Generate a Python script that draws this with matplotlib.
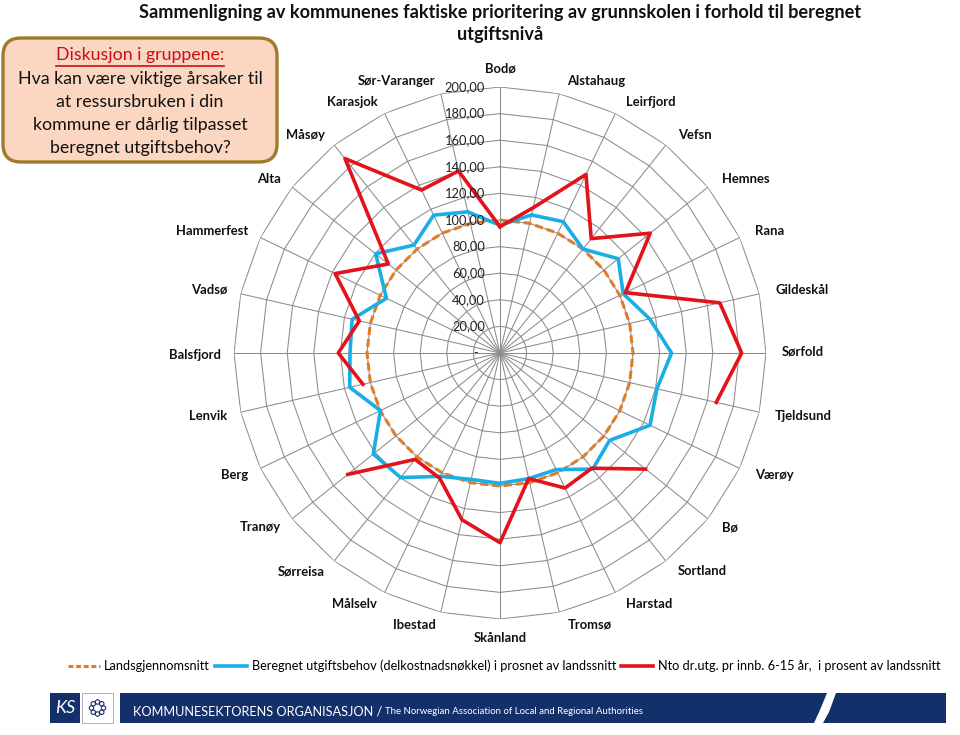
import numpy as np
import matplotlib.pyplot as plt
from matplotlib.lines import Line2D
from matplotlib.patches import FancyBboxPatch, Rectangle, Circle, Polygon
from matplotlib.transforms import offset_copy

plt.rcParams['font.family'] = ['Lato', 'DejaVu Sans']

kommuner = ["Bodø", "Alstahaug", "Leirfjord", "Vefsn", "Hemnes", "Rana", "Gildeskål",
            "Sørfold", "Tjeldsund", "Værøy", "Bø", "Sortland", "Harstad", "Tromsø",
            "Skånland", "Ibestad", "Målselv", "Sørreisa", "Tranøy", "Berg", "Lenvik",
            "Balsfjord", "Vadsø", "Hammerfest", "Alta", "Måsøy", "Karasjok", "Sør-Varanger"]

landsgjennomsnitt = [100.0] * len(kommuner)
beregnet = [96, 106.5, 109.6, 100, 113.7, 102.8, 115.4, 129, 121, 125.2, 105.4, 111.7, 97.3, 96.9,
            98, 97.5, 102.9, 119.8, 121.8, 99.8, 115.9, 112.8, 114, 94.8, 119.6, 103.8, 115, 108.9]
# Værøy og Berg mangler verdi (brudd i linja)
nto = [95, 112, 149, 110, 144.5, 104.6, 169.5, 181.7, 166.8, np.nan, 140, 110.8, 112.7, 96.8,
       142.6, 128.6, 104.5, 102.3, 146.4, np.nan, 105.7, 121.6, 108.5, 137.6, 107.4, 187, 136, 140.4]
r_ticks = list(range(0, 201, 20))

serie_navn = ["Landsgjennomsnitt",
              "Beregnet utgiftsbehov (delkostnadsnøkkel) i prosnet av landssnitt",
              "Nto dr.utg. pr innb. 6-15 år,  i prosent av landssnitt"]

c_orange = '#e07b28'
c_blue = '#1aaee4'
c_red = '#e3121b'
c_grid = '#8c8c8c'
navy = '#13306b'

fig = plt.figure(figsize=(9.6, 7.35), dpi=100)

ax = fig.add_axes([0.24375, 0.15782, 0.55417, 0.72381], projection='polar')
ax.set_theta_zero_location('N')
ax.set_theta_direction(-1)
ax.set_ylim(0, 200)
ax.set_axis_off()

n = len(kommuner)
theta = np.arange(n) * 2 * np.pi / n
theta_c = np.append(theta, theta[0])

# polygon-rutenett som i Excel
for r in r_ticks[1:]:
    ax.plot(theta_c, [r] * (n + 1), color=c_grid, lw=0.75, zorder=1)
for t in theta:
    ax.plot([t, t], [0, 200], color=c_grid, lw=0.75, zorder=1)

ax.plot(theta_c, landsgjennomsnitt + landsgjennomsnitt[:1], color=c_orange, lw=2.2,
        dashes=(2.6, 1.3), zorder=3)
ax.plot(theta_c, beregnet + beregnet[:1], color=c_blue, lw=2.6, zorder=4)
ax.plot(theta_c, nto + nto[:1], color=c_red, lw=2.6, zorder=5)

for r in r_ticks:
    lab = f"{r},00" if r else "-"
    tr = offset_copy(ax.transData, fig=fig, x=-15 if r else -22, y=0, units='dots')
    ax.text(0, r, lab, transform=tr, ha='right', va='center', fontsize=9.3,
            color='#222222', zorder=6)

for i, name in enumerate(kommuner):
    s, c = np.sin(theta[i]), np.cos(theta[i])
    if abs(s) < 0.01:
        ha, dx, dy = 'center', 0, 19 * np.sign(c)
    elif s > 0:
        ha, dx, dy = 'left', 6 + 10 * s, (1.5 + 11 * abs(c)) * np.sign(c)
    else:
        ha, dx, dy = 'right', -(2.5 + 11 * abs(s)), (1.5 + 11 * abs(c)) * np.sign(c)
    tr = offset_copy(ax.transData, fig=fig, x=dx, y=dy, units='dots')
    ax.text(theta[i], 200, name, transform=tr, ha=ha, va='center',
            fontsize=9.4, fontweight='bold', color='#111111')

# overlegg i pikselkoordinater
ax0 = fig.add_axes([0, 0, 1, 1])
ax0.set_xlim(0, 960)
ax0.set_ylim(735, 0)
ax0.set_axis_off()
ax0.set_zorder(3)
ax0.patch.set_alpha(0)

ax0.text(500, 12, "Sammenligning av kommunenes faktiske prioritering av grunnskolen i forhold til beregnet",
         ha='center', va='center', fontsize=13.1, fontweight='bold', color='#111111')
ax0.text(500, 34, "utgiftsnivå", ha='center', va='center', fontsize=13.1,
         fontweight='bold', color='#111111')

box = FancyBboxPatch((12, 47), 256, 106, boxstyle="round,pad=9,rounding_size=18",
                     facecolor='#fbd6c1', edgecolor='#a07a2c', lw=2.4)
ax0.add_patch(box)
t_head = ax0.text(140, 55, "Diskusjon i gruppene:", ha='center', va='center',
                  fontsize=12.8, color='#c8101a')
sporsmal = ["Hva kan være viktige årsaker til", "at ressursbruken i din",
            "kommune er dårlig tilpasset", "beregnet utgiftsbehov?"]
for k, line in enumerate(sporsmal):
    ax0.text(140, 79 + 23 * k, line, ha='center', va='center', fontsize=12.8, color='#111111')

fig.canvas.draw()
bb = t_head.get_window_extent().transformed(ax0.transData.inverted())
ax0.plot([bb.x0, bb.x1], [66, 66], color='#c8101a', lw=1.2)

# bunnlinje
ax0.add_patch(Rectangle((50, 693), 30, 30, facecolor=navy, edgecolor='none'))
ax0.text(65, 708, "KS", ha='center', va='center', fontsize=13, style='italic',
         color='white')
ax0.add_patch(Rectangle((82, 693), 31, 30, facecolor='white', edgecolor='#9aa4b8', lw=0.6))
for a in np.linspace(0, 2 * np.pi, 9)[:-1]:
    ax0.add_patch(Circle((97.5 + 6 * np.cos(a), 708 + 6 * np.sin(a)), 2.2,
                         facecolor='none', edgecolor=navy, lw=0.8))
ax0.add_patch(Rectangle((120, 693), 826, 30, facecolor=navy, edgecolor='none'))
ax0.add_patch(Polygon([(827, 693), (836, 693), (829, 712), (823, 723), (814, 723), (820, 710)],
                      closed=True, facecolor='white', edgecolor='none'))
t_ks = ax0.text(133, 712, "KOMMUNESEKTORENS ORGANISASJON /", ha='left', va='center',
                fontsize=9.2, color='white')
fig.canvas.draw()
bb2 = t_ks.get_window_extent().transformed(ax0.transData.inverted())
ax0.text(bb2.x1 + 3, 712, "The Norwegian Association of Local and Regional Authorities",
         ha='left', va='center', fontsize=6.9, color='white')

handles = [Line2D([], [], color=c_orange, lw=2.2, dashes=(1.6, 0.9)),
           Line2D([], [], color=c_blue, lw=2.6),
           Line2D([], [], color=c_red, lw=2.6)]
fig.legend(handles, serie_navn, loc='center', bbox_to_anchor=(504 / 960, 1 - 666 / 735),
           ncol=3, frameon=False, fontsize=9.2, handlelength=2.5, handletextpad=0.35,
           columnspacing=0.4, borderpad=0.1)

fig.savefig("out.png", dpi=100)
